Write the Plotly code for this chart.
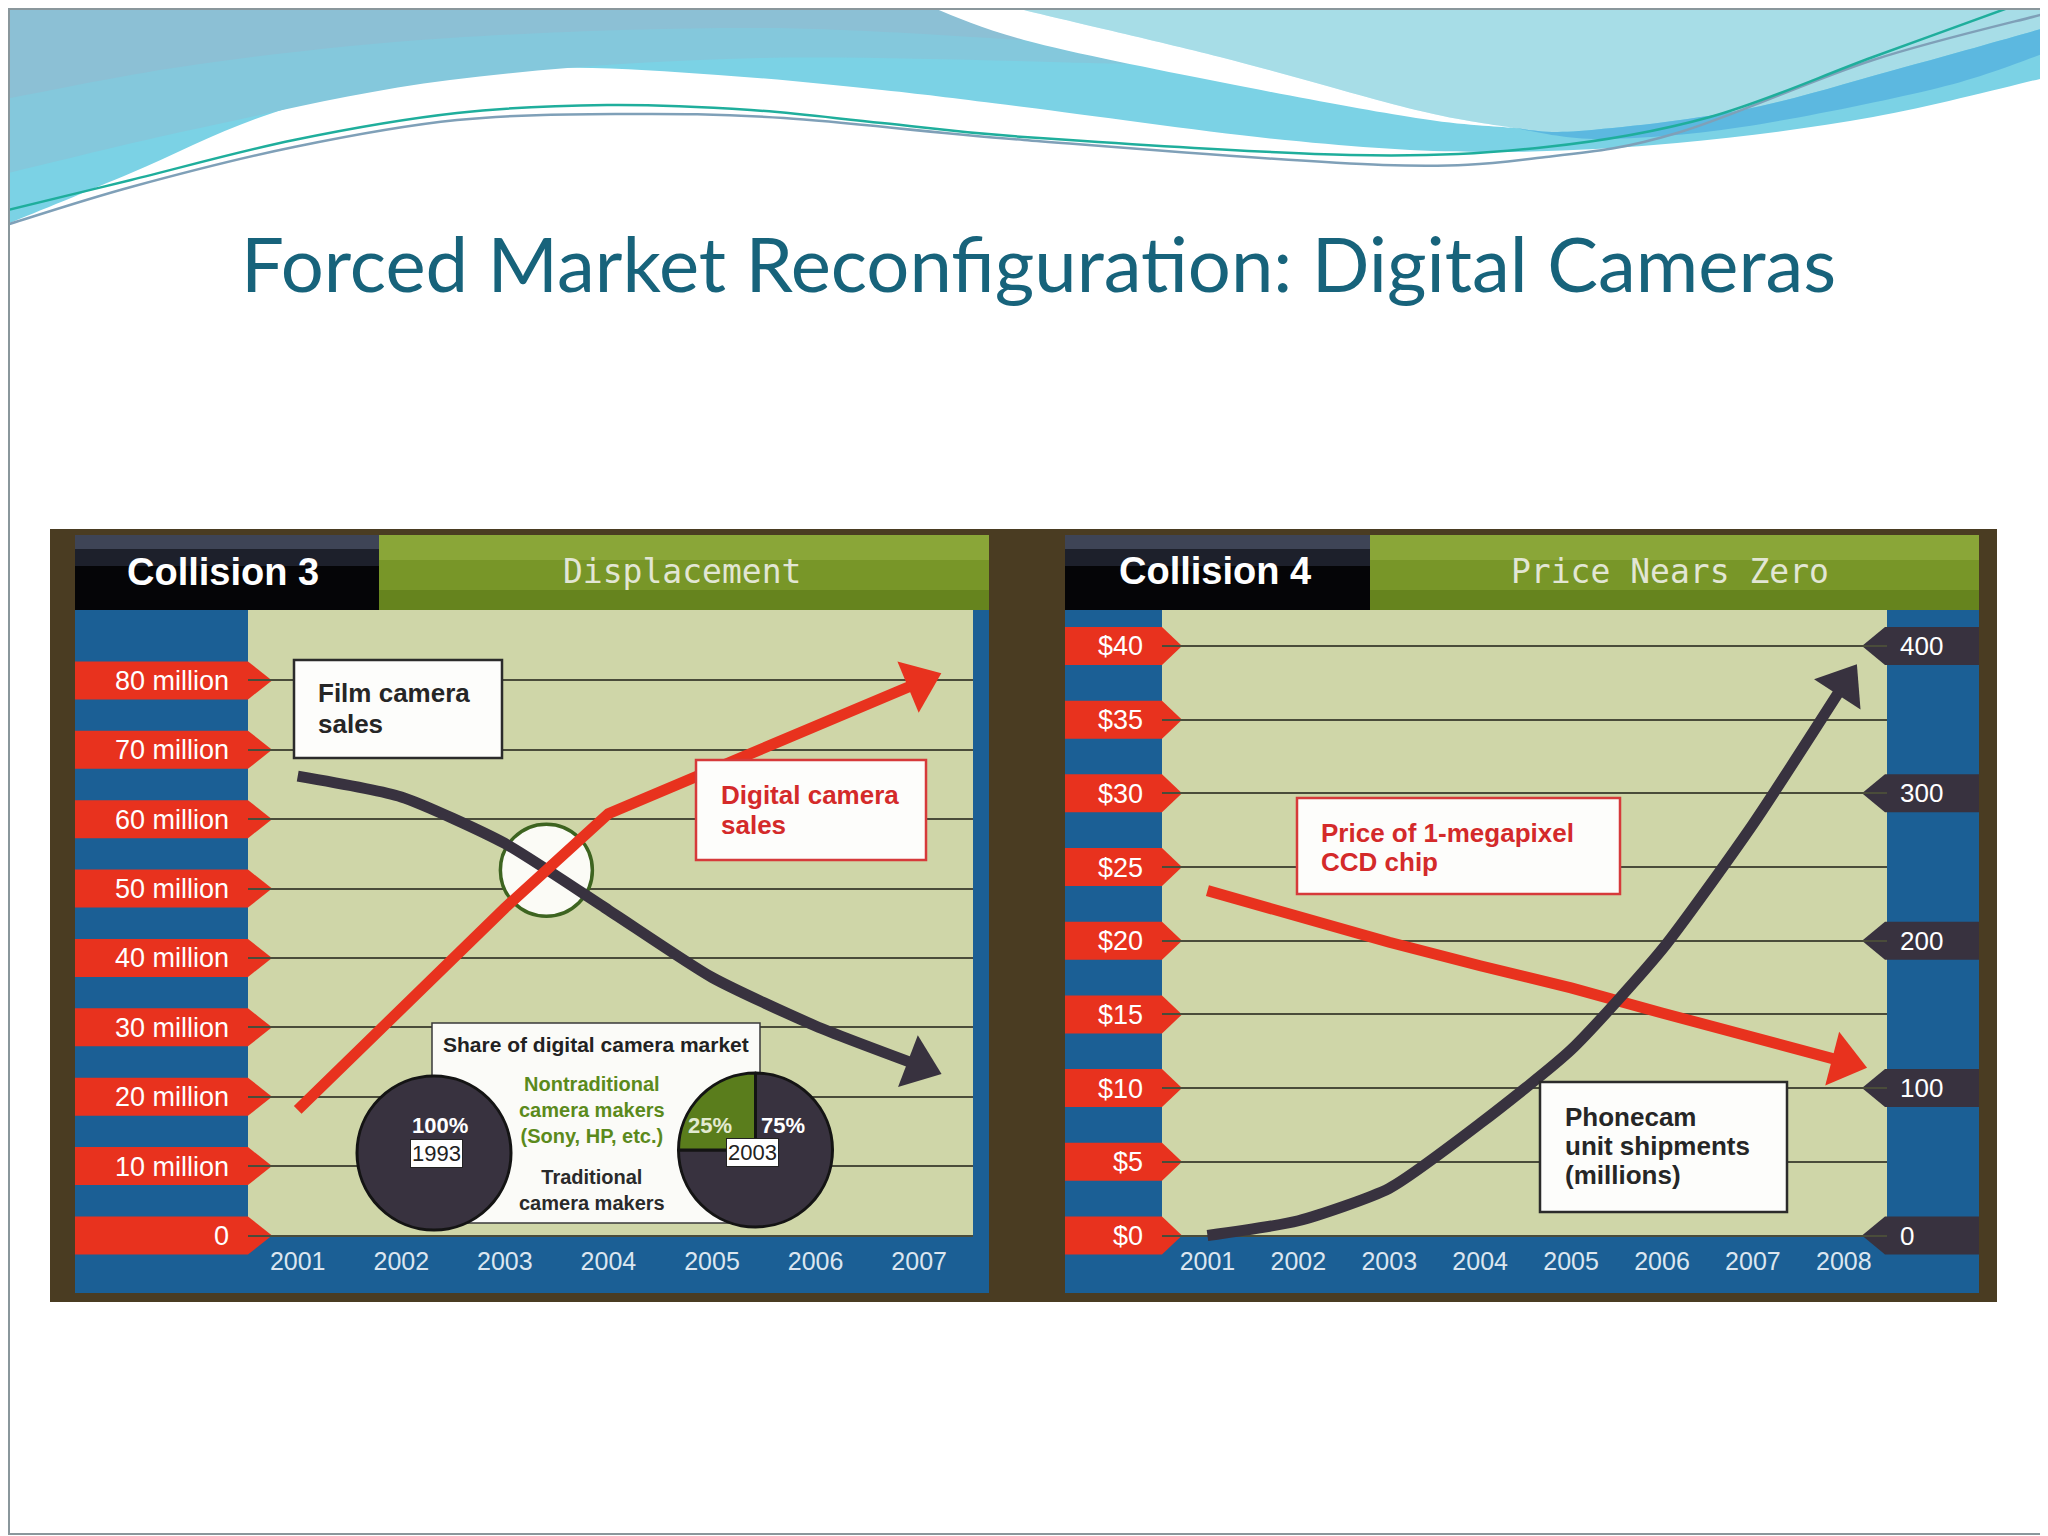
import plotly.graph_objects as go

# The page body has an 8px margin, so the figure is 8px smaller than the
# window and all layout pixel positions are given in window coordinates.
OFF = 8
W, H = 2048 - OFF, 1536 - OFF

# ---------------- data ----------------
c3_years = [2001, 2002, 2003, 2004, 2005, 2006, 2007]
film_sales = [66.2, 63.2, 56.5, 46.9, 37.2, 30.2, 24.5]        # millions
digital_sales = [18.1, 32.8, 47.2, 60.8, 67.1, 73.5, 79.7]     # millions

c3_tickvals = [0, 10, 20, 30, 40, 50, 60, 70, 80]
c3_ticktext = ["0", "10 million", "20 million", "30 million", "40 million",
               "50 million", "60 million", "70 million", "80 million"]

c4_years = [2001, 2002, 2003, 2004, 2005, 2006, 2007, 2008]
ccd_price = [23.4, 21.6, 19.9, 18.3, 16.8, 15.1, 13.4, 11.8]    # dollars
phonecam_units = [0, 10, 32, 76, 126, 194, 279, 374]            # millions

c4_price_ticks = [0, 5, 10, 15, 20, 25, 30, 35, 40]
c4_price_text = ["$0", "$5", "$10", "$15", "$20", "$25", "$30", "$35", "$40"]
c4_unit_ticks = [0, 100, 200, 300, 400]
c4_unit_text = ["0", "100", "200", "300", "400"]

share_years = ["1993", "2003"]
share_labels = ["Traditional camera makers", "Nontraditional camera makers"]
share_1993 = [100, 0]
share_2003 = [75, 25]

# ---------------- styling ----------------
SANS = "Liberation Sans, Arial, sans-serif"
MONO = "DejaVu Sans Mono, Liberation Mono, monospace"
RED = "#e8321e"
DARK = "#38323f"
BLUE = "#1b5f95"
PLOT = "#cfd6a8"
GREEN_PIE = "#5a7d1c"
share_colors = [DARK, GREEN_PIE]


def px(x):
    return (x - OFF) / W


def py(y):
    return 1 - (y - OFF) / H


def P(x, y):
    return f"{px(x):.5f},{py(y):.5f}"


def smooth(pts):
    """Catmull-Rom -> cubic bezier segments (no leading M)."""
    s = ""
    n = len(pts)
    for i in range(n - 1):
        p0 = pts[i - 1] if i > 0 else pts[i]
        p1 = pts[i]
        p2 = pts[i + 1]
        p3 = pts[i + 2] if i + 2 < n else pts[i + 1]
        c1 = (p1[0] + (p2[0] - p0[0]) / 6, p1[1] + (p2[1] - p0[1]) / 6)
        c2 = (p2[0] - (p3[0] - p1[0]) / 6, p2[1] - (p3[1] - p1[1]) / 6)
        s += f" C{P(*c1)} {P(*c2)} {P(*p2)}"
    return s


shapes = []


def rect(x0, y0, x1, y1, fill, lc=None, lw=0, layer="below"):
    shapes.append(dict(type="rect", xref="paper", yref="paper",
                       x0=px(x0), x1=px(x1), y0=py(y1), y1=py(y0),
                       fillcolor=fill, layer=layer,
                       line=dict(color=lc or fill, width=lw)))


def poly(path, fill, lc=None, lw=0, layer="below"):
    shapes.append(dict(type="path", xref="paper", yref="paper", path=path,
                       fillcolor=fill, layer=layer,
                       line=dict(color=lc or "rgba(0,0,0,0)", width=lw)))


# ---------------- slide header waves ----------------
B1 = [(0, 227), (131, 173), (261, 117), (392, 83), (555, 68), (718, 75), (882, 90),
      (1024, 107), (1285, 140), (1481, 152), (1677, 143), (1873, 117), (2048, 77)]
poly("M" + P(0, 0) + " L" + P(2048, 0) + " L" + P(2048, 77) + smooth(B1[::-1]) + " Z", "#7bd2e5")
tintA = [(1130, 64), (760, 58), (450, 80), (200, 128), (0, 175)]
poly("M" + P(0, 0) + " L" + P(914, 0) + " L" + P(1024, 40) + " L" + P(1130, 64) + smooth(tintA) + " Z", "#84c8dc")
tintB = [(1024, 40), (760, 28), (450, 38), (200, 64), (0, 100)]
poly("M" + P(0, 0) + " L" + P(914, 0) + " L" + P(1024, 40) + smooth(tintB) + " Z", "#8cc0d5")
sw_up = [(993, 0), (1024, 10), (1220, 57), (1416, 110), (1514, 128)]
cy_low = [(1514, 128), (1579, 131), (1742, 110), (1905, 67), (2048, 27)]
poly("M" + P(993, 0) + smooth(sw_up) + smooth(cy_low) + " L" + P(2048, 0) + " Z", "#a7dde7")
st_low = [(2048, 52), (1938, 88), (1742, 127), (1600, 139), (1514, 128)]
poly("M" + P(1514, 128) + smooth(cy_low) + " L" + P(2048, 52) + smooth(st_low) + " Z", "#5cb8e0")
sw_low = [(1514, 128), (1416, 118), (1220, 82), (1024, 40), (914, 0)]
poly("M" + P(993, 0) + smooth(sw_up) + smooth(sw_low) + " Z", "#ffffff")
lineA = [(0, 212), (131, 180), (294, 140), (457, 113), (607, 105), (751, 110), (882, 123),
         (1024, 137), (1350, 155), (1546, 147), (1710, 117), (1873, 57), (2030, 0)]
lineB = [(0, 227), (131, 187), (294, 147), (457, 120), (620, 114), (784, 118), (1024, 140),
         (1383, 165), (1546, 157), (1677, 133), (1873, 60), (2048, 13)]
poly("M" + P(*lineB[0]) + smooth(lineB), "rgba(0,0,0,0)", "#7fa0b8", 2.5)
poly("M" + P(*lineA[0]) + smooth(lineA), "rgba(0,0,0,0)", "#1fae9c", 2.5)
# slide border
rect(9, 9, 2046, 1534, "rgba(0,0,0,0)", "#8a979c", 2)

# ---------------- infographic frame ----------------
rect(50, 529, 1997, 1302, "#4a3c22")
for (bx0, bx1, gx) in [(75, 379, 989), (1065, 1370, 1979)]:
    rect(bx0, 535, bx1, 610, "#050507")
    rect(bx0, 535, bx1, 566, "#1d202b")
    rect(bx0, 535, bx1, 549, "#3e4456")
    rect(bx1, 535, gx, 610, "#66841e")
    rect(bx1, 535, gx, 590, "#789628")
    rect(bx1, 535, gx, 560, "#8aa638")
# left panel bands + plot area
rect(75, 610, 248, 1293, BLUE)
rect(248, 610, 973, 1235, PLOT)
rect(248, 1235, 989, 1293, BLUE)
rect(973, 610, 989, 1293, BLUE)
# right panel bands + plot area
rect(1065, 610, 1162, 1293, BLUE)
rect(1162, 610, 1887, 1235, PLOT)
rect(1162, 1235, 1887, 1293, BLUE)
rect(1887, 610, 1979, 1293, BLUE)

# tick tags (arrow-shaped labels) positioned on the axes' values
for v in c3_tickvals:
    shapes.append(dict(type="path", xref="paper", yref="y", xsizemode="pixel",
                       ysizemode="pixel", xanchor=px(75), yanchor=v,
                       path="M0,-19 L173,-19 L197,0 L173,19 L0,19 Z",
                       fillcolor=RED, line=dict(width=0), layer="below"))
for v in c4_price_ticks:
    shapes.append(dict(type="path", xref="paper", yref="y2", xsizemode="pixel",
                       ysizemode="pixel", xanchor=px(1065), yanchor=v,
                       path="M0,-19 L97,-19 L117,0 L97,19 L0,19 Z",
                       fillcolor=RED, line=dict(width=0), layer="below"))
for v in c4_unit_ticks:
    shapes.append(dict(type="path", xref="paper", yref="y3", xsizemode="pixel",
                       ysizemode="pixel", xanchor=px(1979), yanchor=v,
                       path="M0,-19 L-94,-19 L-117,0 L-94,19 L0,19 Z",
                       fillcolor=DARK, line=dict(width=0), layer="below"))

# ---------------- axes geometry ----------------
XL0, XL1, YT, YB = 248, 973, 610, 1293
zero_px = 1235.5
c3_xrange = [2000.52, 2007.52]
c4_xrange = [2000.50, 2008.475]
c3_scale = (zero_px - 680.4) / 80.0         # px per million
c4_scale = (zero_px - 646.0) / 40.0         # px per dollar
c3_range = [-(YB - zero_px) / c3_scale, (zero_px - YT) / c3_scale]
c4_range = [-(YB - zero_px) / c4_scale, (zero_px - YT) / c4_scale]
c4_range_units = [v * 10 for v in c4_range]


def c3_xdata(p):
    return c3_xrange[0] + (p - XL0) / (XL1 - XL0) * (c3_xrange[1] - c3_xrange[0])


def c3_ydata(p):
    return c3_range[0] + (YB - p) / (YB - YT) * (c3_range[1] - c3_range[0])


# crossover circle at the intersection of the two series (2003-2004 segment)
d0, d1 = digital_sales[2], digital_sales[3]
f0, f1 = film_sales[2], film_sales[3]
t = (f0 - d0) / ((d1 - d0) - (f1 - f0))
cross_x = c3_years[2] + t * (c3_years[3] - c3_years[2])
cross_y = d0 + t * (d1 - d0)
shapes.append(dict(type="circle", xref="x", yref="y", xsizemode="pixel", ysizemode="pixel",
                   xanchor=cross_x, yanchor=cross_y, x0=-46, x1=46, y0=-46, y1=46,
                   fillcolor="#fbfbf6", line=dict(color="#3d6420", width=3.5), layer="between"))

# inset box for market-share pies (above gridlines, below traces)
shapes.append(dict(type="rect", xref="x", yref="y",
                   x0=c3_xdata(432), x1=c3_xdata(760), y0=c3_ydata(1223), y1=c3_ydata(1023),
                   fillcolor="#fbfbf8", line=dict(color="#3a3a3a", width=1.5), layer="between"))

# label boxes
rect(294, 660, 502, 758, "#fdfdfb", "#2b2b2b", 2.5, layer="above")
rect(696, 760, 926, 860, "#fdfdfb", "#d63a3a", 2.5, layer="above")
rect(1297, 798, 1620, 894, "#fdfdfb", "#d63a3a", 2.5, layer="above")
rect(1540, 1082, 1787, 1212, "#fdfdfb", "#2b2b2b", 2.5, layer="above")

# ---------------- traces ----------------
fig = go.Figure()


def arrow_line(xs, ys, color, xa, ya, shape="linear", size=48):
    sizes = [0] * (len(xs) - 1) + [size]
    return go.Scatter(x=xs, y=ys, mode="lines+markers", xaxis=xa, yaxis=ya,
                      line=dict(color=color, width=11, shape=shape, smoothing=0.6),
                      marker=dict(symbol="triangle-up", size=sizes, angleref="previous", color=color,
                                  opacity=1, line=dict(width=0)),
                      cliponaxis=False, hoverinfo="skip", showlegend=False)


fig.add_trace(arrow_line(c3_years, film_sales, DARK, "x", "y", "spline"))
fig.add_trace(arrow_line(c3_years, digital_sales, RED, "x", "y"))
fig.add_trace(arrow_line(c4_years, ccd_price, RED, "x2", "y2"))
fig.add_trace(arrow_line(c4_years, phonecam_units, DARK, "x2", "y3", "spline"))

# pies (clockwise from 12 o'clock: traditional first, nontraditional ends at 12)
for vals, (cx, cy) in [(share_1993, (434, 1153)), (share_2003, (755.5, 1150))]:
    r = 77
    keep = [i for i, v in enumerate(vals) if v > 0]
    fig.add_trace(go.Pie(labels=[share_labels[i] for i in keep], values=[vals[i] for i in keep],
                         sort=False, direction="clockwise",
                         rotation=0, textinfo="none", hoverinfo="skip", showlegend=False,
                         marker=dict(colors=[share_colors[i] for i in keep],
                                     line=dict(color="#141414", width=3)),
                         domain=dict(x=[px(cx - r), px(cx + r)], y=[py(cy + r), py(cy - r)])))

# ---------------- annotations ----------------
ann = []


def text(x, y, s, size, color, family=SANS, xanchor="left", bold=False, **kw):
    ann.append(dict(xref="paper", yref="paper", x=px(x), y=py(y), text=(f"<b>{s}</b>" if bold else s),
                    showarrow=False, xanchor=xanchor, yanchor="middle",
                    font=dict(size=size, color=color, family=family), **kw))


text(1038, 262, "Forced Market Reconfiguration: Digital Cameras", 76, "#17637b", "Lato, Open Sans, sans-serif", "center")
text(125, 572, "Collision 3", 38, "#ffffff", SANS, bold=True)
text(682, 572, "Displacement", 33, "#e2e6d4", MONO, "center")
text(1117, 571, "Collision 4", 38, "#ffffff", SANS, bold=True)
text(1670, 571, "Price Nears Zero", 33, "#e2e6d4", MONO, "center")

for i, s in enumerate(["Film camera", "sales"]):
    text(316, 693 + 31 * i, s, 26, "#262626", SANS, bold=True)
for i, s in enumerate(["Digital camera", "sales"]):
    text(719, 795 + 30 * i, s, 26, "#d42a2a", SANS, bold=True)
for i, s in enumerate(["Price of 1-megapixel", "CCD chip"]):
    text(1319, 833 + 29 * i, s, 26, "#d42a2a", SANS, bold=True)
for i, s in enumerate(["Phonecam", "unit shipments", "(millions)"]):
    text(1563, 1117 + 29 * i, s, 26, "#262626", SANS, bold=True)

text(596, 1044, "Share of digital camera market", 21, "#222222", SANS, "center", bold=True)
text(592, 1110, "Nontraditional<br>camera makers<br>(Sony, HP, etc.)", 20, "#5b8a1c", SANS, "center", bold=True)
text(592, 1190, "Traditional<br>camera makers", 20, "#2a2a2a", SANS, "center", bold=True)

text(440, 1125, f"{share_1993[0]}%", 22, "#ffffff", SANS, "center", bold=True)
text(710, 1125, f"{share_2003[1]}%", 22, "#e3ead0", SANS, "center", bold=True)
text(783, 1125, f"{share_2003[0]}%", 22, "#ffffff", SANS, "center", bold=True)
text(436, 1153, share_years[0], 22, "#222222", SANS, "center",
     bgcolor="#ffffff", bordercolor="#222222", borderwidth=1, borderpad=1)
text(752, 1152, share_years[1], 22, "#222222", SANS, "center",
     bgcolor="#ffffff", bordercolor="#222222", borderwidth=1, borderpad=1)

# ---------------- axes ----------------
Y_DOM = [py(YB), py(YT)]

xt = dict(showgrid=False, zeroline=False, showline=False, ticks="", fixedrange=True,
          tickfont=dict(family=SANS, size=25, color="#dbe6f0"), ticklabelstandoff=8,
          anchor="free", position=py(zero_px), tickmode="array")
yt = dict(zeroline=False, showline=False, ticks="", fixedrange=True, showgrid=True,
          gridcolor="#4a4c3a", gridwidth=1.8, tickmode="array")

fig.update_layout(
    width=W, height=H, autosize=False,
    margin=dict(l=0, r=0, t=0, b=0, pad=0),
    paper_bgcolor="#ffffff", plot_bgcolor="rgba(0,0,0,0)",
    showlegend=False,
    xaxis=dict(xt, domain=[px(XL0), px(XL1)], range=c3_xrange,
               tickvals=c3_years, ticktext=[str(v) for v in c3_years]),
    yaxis=dict(yt, domain=Y_DOM, range=c3_range, anchor="x",
               tickvals=c3_tickvals, ticktext=c3_ticktext, ticklabelstandoff=18,
               tickfont=dict(family=SANS, size=27, color="#ffffff")),
    xaxis2=dict(xt, domain=[px(1162), px(1887)], range=c4_xrange,
                tickvals=c4_years, ticktext=[str(v) for v in c4_years]),
    yaxis2=dict(yt, domain=Y_DOM, range=c4_range, anchor="x2",
                tickvals=c4_price_ticks, ticktext=c4_price_text, ticklabelstandoff=18,
                tickfont=dict(family=SANS, size=27, color="#ffffff")),
    yaxis3=dict(yt, domain=Y_DOM, range=c4_range_units, anchor="x2", overlaying="y2",
                side="right", showgrid=False,
                tickvals=c4_unit_ticks, ticktext=c4_unit_text, ticklabelstandoff=12,
                tickfont=dict(family=SANS, size=26, color="#ffffff")),
    shapes=shapes,
    annotations=ann,
)

fig.write_html("out.html")
